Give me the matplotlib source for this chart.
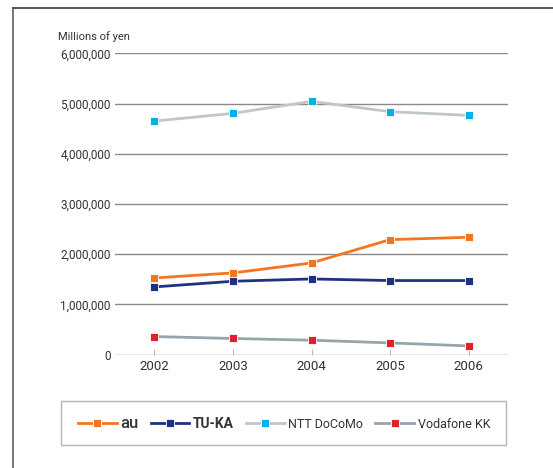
import matplotlib
matplotlib.use("Agg")
import matplotlib.pyplot as plt
from matplotlib.lines import Line2D
from matplotlib.patches import Rectangle
from matplotlib.ticker import FuncFormatter

plt.rcParams['font.family'] = ['Roboto', 'DejaVu Sans']

years = [2002, 2003, 2004, 2005, 2006]
au = [1526000, 1626000, 1825000, 2290000, 2337000]
tuka = [1347000, 1460000, 1506000, 1474000, 1474000]
docomo = [4653000, 4807000, 5046000, 4840000, 4767000]
vodafone = [358000, 319000, 285000, 231000, 171000]

series = [
    ("au", au, "#F47521", "#F47521"),
    ("TU-KA", tuka, "#1E3380", "#1E3380"),
    ("NTT DoCoMo", docomo, "#BFC7CC", "#00B0E8"),
    ("Vodafone KK", vodafone, "#98A4AC", "#E0202A"),
]

W, H = 553, 468
fig = plt.figure(figsize=(W / 100, H / 100), dpi=100)
ax = fig.add_axes([115 / W, 1 - 354.5 / H, (508 - 115) / W, (354.5 - 53.5) / H])

for name, vals, lc, mc in series:
    ax.plot(years, vals, color=lc, lw=2.0, marker="s", ms=6,
            mfc=mc, mec="white", mew=0.6, label=name, zorder=3)

ax.set_xlim(2001.5, 2006.5)
ax.set_ylim(0, 6000000)
ax.set_yticks(range(0, 6000001, 1000000))
ax.yaxis.set_major_formatter(FuncFormatter(lambda v, p: f"{int(v):,}"))
ax.grid(axis="y", color="#8a8a8a", lw=1.0, zorder=0)
ax.set_axisbelow(True)
for s in ax.spines.values():
    s.set_visible(False)
ax.tick_params(axis="y", length=0, pad=3, labelsize=8.5, labelcolor="#333333")
ax.tick_params(axis="x", direction="in", length=4, width=0.8, color="#BBBBBB",
               pad=4, labelsize=9.5, labelcolor="#333333")
ax.set_xticks(years)

fig.text(58 / W, 1 - 37 / H, "Millions of yen", fontsize=8, color="#333333",
         va="center", ha="left")

# outer frame (left and top edges)
fig.add_artist(Line2D([13 / W, 13 / W], [0, 1 - 8 / H], transform=fig.transFigure,
                      color="#777777", lw=1.4))
fig.add_artist(Line2D([13 / W, 1], [1 - 8 / H, 1 - 8 / H], transform=fig.transFigure,
                      color="#555555", lw=1.4))

# legend frame
fig.add_artist(Rectangle((61 / W, 1 - 445 / H), (506 - 61) / W, 44 / H,
                         transform=fig.transFigure, fill=False,
                         edgecolor="#B5B5B5", lw=1.0))

handles, labels = ax.get_legend_handles_labels()
leg = fig.legend(handles, labels, loc="center", ncol=4,
                 bbox_to_anchor=(284 / W, 1 - 423 / H), frameon=False,
                 handlelength=3.1, handletextpad=0.3, columnspacing=0.95,
                 fontsize=9)
for t, txt in zip(leg.get_texts(), labels):
    t.set_color("#333333")
    if txt == "au":
        t.set_fontsize(12)
        t.set_fontweight("medium")
    elif txt == "TU-KA":
        t.set_fontsize(10)
        t.set_fontweight("bold")

fig.savefig("out.png", dpi=100)
